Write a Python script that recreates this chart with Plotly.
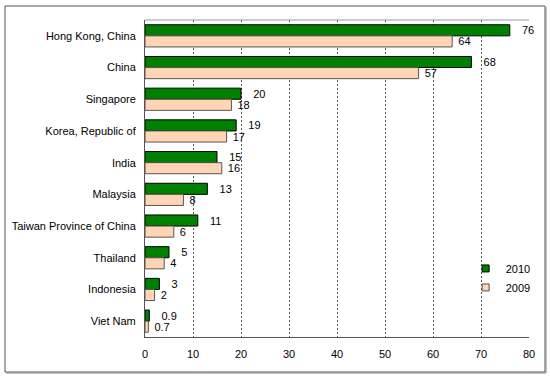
import plotly.graph_objects as go

categories = ["Hong Kong, China", "China", "Singapore", "Korea, Republic of", "India",
              "Malaysia", "Taiwan Province of China", "Thailand", "Indonesia", "Viet Nam"]
values_2010 = [76, 68, 20, 19, 15, 13, 11, 5, 3, 0.9]
values_2009 = [64, 57, 18, 17, 16, 8, 6, 4, 2, 0.7]
labels_2010 = ["76", "68", "20", "19", "15", "13", "11", "5", "3", "0.9"]
labels_2009 = ["64", "57", "18", "17", "16", "8", "6", "4", "2", "0.7"]
x_ticks = [0, 10, 20, 30, 40, 50, 60, 70, 80]

FONT = "Liberation Sans Narrow, Arial Narrow, Liberation Sans, Arial"
GREEN, PEACH = "#008000", "#FFD5B5"

fig = go.Figure()
fig.add_trace(go.Bar(
    y=categories, x=values_2010, orientation="h", name="2010", showlegend=False,
    marker=dict(color=GREEN, line=dict(color="#000000", width=1)),
    text=["   " + t for t in labels_2010], textposition="outside", cliponaxis=False,
    constraintext="none", textfont=dict(family=FONT, size=11, color="#000000"),
))
fig.add_trace(go.Bar(
    y=categories, x=values_2009, orientation="h", name="2009", showlegend=False,
    marker=dict(color=PEACH, line=dict(color="#555555", width=1)),
    text=[" " + t for t in labels_2009], textposition="outside", cliponaxis=False,
    constraintext="none", textfont=dict(family=FONT, size=11, color="#000000"),
))
for nm, col, lc in [("2010", GREEN, "#000000"), ("2009", PEACH, "#555555")]:
    fig.add_trace(go.Scatter(
        x=[None], y=[None], mode="markers", name=nm,
        marker=dict(symbol="square", size=7, color=col, line=dict(color=lc, width=1)),
    ))

L, R, T, B = 145, 21, 20, 43
pw, ph = 550 - L - R, 380 - T - B

fig.update_layout(
    width=550, height=380,
    margin=dict(l=L, r=R, t=T, b=B, autoexpand=False),
    paper_bgcolor="white", plot_bgcolor="white",
    barmode="group", bargap=0.3, bargroupgap=0,
    font=dict(family=FONT, size=11, color="#000000"),
    showlegend=True,
    legend=dict(x=0.835, y=0.262, xanchor="left", yanchor="top",
                font=dict(family=FONT, size=11), bgcolor="rgba(0,0,0,0)",
                itemwidth=30, tracegroupgap=0),
    xaxis=dict(range=[0, 80], tickvals=x_ticks, showgrid=True,
               gridcolor="#555555", griddash="2px,2px", gridwidth=1,
               showline=True, linecolor="#555555", linewidth=1,
               ticks="", ticklabelstandoff=7, zeroline=False, automargin=False,
               fixedrange=True),
    yaxis=dict(autorange="reversed", showline=True, linecolor="#555555", linewidth=1,
               ticks="", ticklabelstandoff=6, automargin=False, fixedrange=True),
    shapes=[
        dict(type="line", xref="paper", yref="paper", x0=0, x1=1, y0=1, y1=1,
             line=dict(color="#999999", width=1)),
        dict(type="rect", xref="paper", yref="paper",
             x0=(5 - L) / pw, x1=(545 - L) / pw,
             y0=(380 - B - 372) / ph, y1=(380 - B - 6) / ph,
             line=dict(color="#555555", width=1)),
        dict(type="line", xref="paper", yref="paper",
             x0=(546 - L) / pw, x1=(546 - L) / pw,
             y0=(380 - B - 373) / ph, y1=(380 - B - 7) / ph,
             line=dict(color="#888888", width=1)),
        dict(type="line", xref="paper", yref="paper",
             x0=(6 - L) / pw, x1=(546 - L) / pw,
             y0=(380 - B - 373) / ph, y1=(380 - B - 373) / ph,
             line=dict(color="#888888", width=1)),
    ],
)

fig.write_html("out.html", config={"displayModeBar": False},
               post_script="document.body.style.margin='0';")
